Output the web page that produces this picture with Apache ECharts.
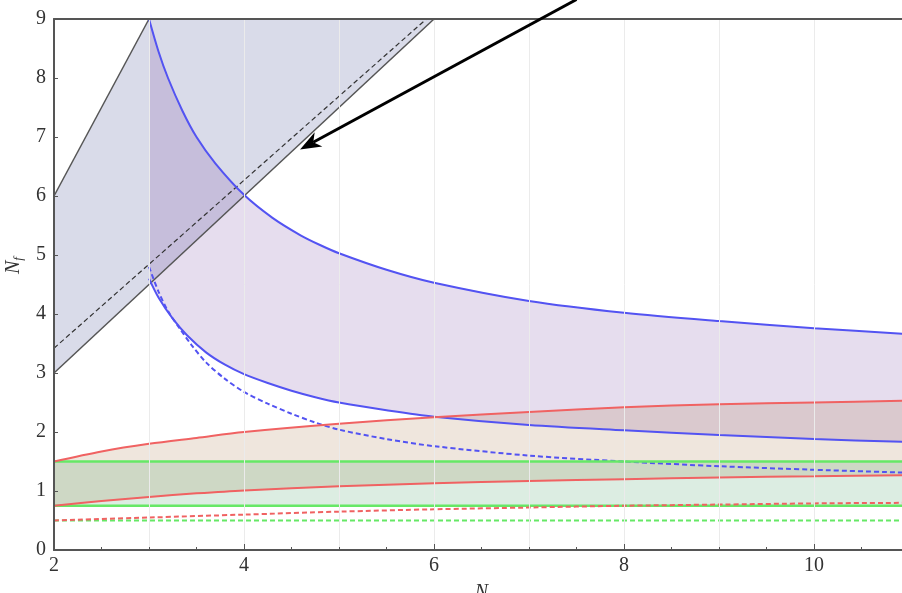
<!DOCTYPE html>
<html>
<head>
<meta charset="utf-8">
<script src="https://cdn.jsdelivr.net/npm/echarts@6/dist/echarts.min.js"></script>
<style>
  html, body { margin: 0; padding: 0; background: #fff; }
  #chart { width: 902px; height: 593px; }
</style>
</head>
<body>
<div id="chart"></div>
<script>
// curves, [N, Nf]
var grayUpper = [[2, 6], [3, 9], [6, 9]];
var grayLower = [[2, 3], [6, 9]];
var grayDashed = [[2, 3.42], [5.92, 9]];

var blueUpper = [[3, 9], [3.1, 8.45], [3.2, 8.0], [3.35, 7.45], [3.5, 7.0], [3.7, 6.55], [4, 6.02], [4.3, 5.63],
  [4.6, 5.33], [4.8, 5.17], [5, 5.03], [5.5, 4.75], [6, 4.53], [7, 4.22], [8, 4.02], [9, 3.88], [10, 3.76], [11, 3.66]];
var blueLower = [[3, 4.6], [3.1, 4.28], [3.25, 3.92], [3.4, 3.64], [3.6, 3.35], [3.8, 3.14], [4, 2.98],
  [4.25, 2.83], [4.5, 2.7], [4.75, 2.59], [5, 2.5], [5.5, 2.37], [6, 2.26], [7, 2.12], [8, 2.03], [9, 1.95],
  [10, 1.88], [11, 1.83]];
var blueDashed = [[3, 4.8], [3.1, 4.38], [3.2, 4.05], [3.33, 3.74], [3.45, 3.47], [3.6, 3.18], [3.8, 2.9],
  [4, 2.68], [4.25, 2.48], [4.5, 2.31], [4.75, 2.16], [5, 2.04], [5.5, 1.88], [6, 1.76], [7, 1.6], [8, 1.5],
  [9, 1.42], [10, 1.36], [11, 1.31]];

var redUpper = [[2, 1.5], [2.5, 1.67], [3, 1.8], [3.5, 1.9], [4, 2.0], [5, 2.14], [6, 2.25], [7, 2.34],
  [8, 2.42], [9, 2.47], [10, 2.5], [11, 2.53]];
var redLower = [[2, 0.75], [2.5, 0.83], [3, 0.9], [3.5, 0.96], [4, 1.01], [5, 1.08], [6, 1.13], [7, 1.17],
  [8, 1.2], [9, 1.23], [10, 1.25], [11, 1.27]];
var redDashed = [[2, 0.5], [3, 0.55], [4, 0.6], [5, 0.65], [6, 0.69], [7, 0.72], [8, 0.75], [9, 0.77],
  [10, 0.79], [11, 0.8]];

var greenUpper = [[2, 1.5], [11, 1.5]];
var greenLower = [[2, 0.75], [11, 0.75]];
var greenDashed = [[2, 0.5], [11, 0.5]];

// arrow annotation, start runs off the top of the picture
var arrowFrom = [7.5, 9.33];
var arrowTo = [4.59, 6.79];

var serif = '"Liberation Serif", "DejaVu Serif", serif';

// filled band between two curves
function band(upper, lower, fill) {
  return {
    type: 'custom',
    coordinateSystem: 'cartesian2d',
    z: 1,
    silent: true,
    data: [0],
    renderItem: function (params, api) {
      var pts = upper.concat(lower.slice().reverse()).map(function (p) { return api.coord(p); });
      return { type: 'polygon', shape: { points: pts }, style: { fill: fill } };
    }
  };
}

function curve(data, color, width, dashed, smooth) {
  return {
    type: 'line',
    data: data,
    z: 3,
    symbol: 'none',
    smooth: smooth ? 0.3 : false,
    silent: true,
    lineStyle: { color: color, width: width, type: dashed ? [5, 3] : 'solid' }
  };
}

var blue = '#5353f2', red = '#f06262', green = '#66e866', gray = '#555';

var chart = echarts.init(document.getElementById('chart'));
chart.setOption({
  animation: false,
  grid: { left: 54, top: 19, right: -7, bottom: 43, outerBoundsMode: 'none', containLabel: false },
  xAxis: [{
    type: 'value', min: 2, max: 11, interval: 1, z: 5,
    name: 'N', nameLocation: 'middle', nameGap: 33,
    nameTextStyle: { fontFamily: serif, fontStyle: 'italic', fontSize: 20, color: '#333' },
    axisLine: { lineStyle: { color: gray, width: 2 } },
    axisTick: { inside: true, length: 3, lineStyle: { color: gray } },
    minorTick: { show: true, splitNumber: 2, length: 3, lineStyle: { color: gray } },
    axisLabel: {
      fontFamily: serif, fontSize: 20, color: '#333', margin: 6,
      formatter: function (v) { return v % 2 === 0 ? v : ''; }
    },
    splitLine: { show: true, lineStyle: { color: '#ebebeb', width: 1 } }
  }, {
    type: 'value', min: 2, max: 11, interval: 2, position: 'bottom', z: 5,
    axisLine: { show: false },
    axisTick: { inside: true, length: 6, lineStyle: { color: gray } },
    axisLabel: { show: false },
    splitLine: { show: false }
  }, {
    type: 'value', min: 2, max: 11, position: 'top', z: 5,
    axisLine: { show: true, onZero: false, lineStyle: { color: gray, width: 2 } },
    axisTick: { show: false },
    axisLabel: { show: false },
    splitLine: { show: false }
  }],
  yAxis: {
    type: 'value', min: 0, max: 9, interval: 1, z: 5,
    name: '{n|N}{s|f}', nameLocation: 'middle', nameGap: 24, nameRotate: 90,
    nameTextStyle: {
      padding: [0, 0, 0, 38],
      rich: {
        n: { fontFamily: serif, fontStyle: 'italic', fontSize: 20, color: '#333' },
        s: { fontFamily: serif, fontStyle: 'italic', fontSize: 13, color: '#333', padding: [10, 0, 0, 0] }
      }
    },
    axisLine: { lineStyle: { color: gray, width: 2 } },
    axisTick: { inside: true, length: 4, lineStyle: { color: gray } },
    axisLabel: { fontFamily: serif, fontSize: 20, color: '#333', margin: 8 },
    splitLine: { show: false }
  },
  series: [
    band(grayUpper, grayLower, 'rgba(65,75,145,0.2)'),
    band(blueUpper, blueLower, 'rgba(88,28,142,0.15)'),
    band(redUpper, redLower, 'rgba(148,88,28,0.15)'),
    band(greenUpper, greenLower, 'rgba(22,135,62,0.15)'),

    curve(grayUpper.slice(0, 2), gray, 1.5, false, false),
    curve(grayLower, gray, 1.5, false, false),
    curve(grayDashed, '#333', 1.2, true, false),

    curve(blueUpper, blue, 2, false, true),
    curve(blueLower, blue, 2, false, true),
    curve(blueDashed, blue, 2, true, true),

    curve(greenUpper, green, 2.5, false, false),
    curve(greenLower, green, 2.5, false, false),
    curve(greenDashed, green, 2, true, false),

    curve(redUpper, red, 2, false, true),
    curve(redLower, red, 2, false, true),
    curve(redDashed, red, 2, true, true)
  ]
});

// arrow: ends converted through the axes, head built around the tip
var p0 = chart.convertToPixel({ xAxisIndex: 0, yAxisIndex: 0 }, arrowFrom);
var p1 = chart.convertToPixel({ xAxisIndex: 0, yAxisIndex: 0 }, arrowTo);
var dx = p0[0] - p1[0], dy = p0[1] - p1[1];
var len = Math.sqrt(dx * dx + dy * dy);
var ux = dx / len, uy = dy / len, nx = -uy, ny = ux;
var headLen = 21, headW = 8, notch = 15;
chart.setOption({
  graphic: [{
    type: 'line', z: 10, silent: true,
    shape: { x1: p0[0], y1: p0[1], x2: p1[0] + ux * notch, y2: p1[1] + uy * notch },
    style: { stroke: '#000', lineWidth: 3 }
  }, {
    type: 'polygon', z: 10, silent: true,
    shape: {
      points: [
        [p1[0], p1[1]],
        [p1[0] + ux * headLen + nx * headW, p1[1] + uy * headLen + ny * headW],
        [p1[0] + ux * notch, p1[1] + uy * notch],
        [p1[0] + ux * headLen - nx * headW, p1[1] + uy * headLen - ny * headW]
      ]
    },
    style: { fill: '#000' }
  }]
});
</script>
</body>
</html>
